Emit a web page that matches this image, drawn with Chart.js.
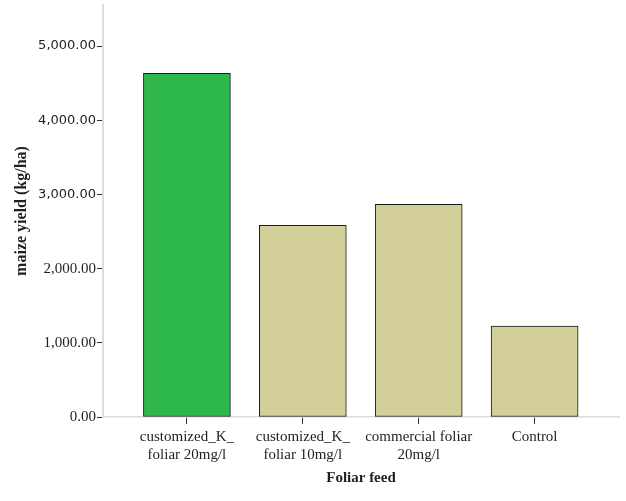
<!DOCTYPE html>
<html>
<head>
<meta charset="utf-8">
<script src="https://cdn.jsdelivr.net/npm/chart.js@4"></script>
<style>
  html, body { margin: 0; padding: 0; background: #fff; }
  #wrap { width: 626px; height: 501px; }
</style>
</head>
<body>
<div id="wrap"><canvas id="barChart"></canvas></div>
<script>
// === DATA ===
const categories = ["customized_K_\nfoliar 20mg/l", "customized_K_\nfoliar 10mg/l", "commercial foliar\n20mg/l", "Control"];
const yieldValues = [4632, 2582, 2865, 1227];
const barColors = ["#2eb84b", "#d3cf98", "#d3cf98", "#d3cf98"];
const yTicks = [0, 1000, 2000, 3000, 4000, 5000];

const serif = "'Liberation Serif', 'Times New Roman', serif";
const sans = "'DejaVu Sans', Verdana, sans-serif";

const barChart = new Chart(document.getElementById("barChart"), {
    type: "bar",
    data: {
        datasets: [{
            data: yieldValues.map((v, i) => ({ x: i, y: v })),
            backgroundColor: barColors,
            borderColor: "#1a1a1a",
            borderWidth: 1,
            borderSkipped: false,
            barThickness: 87
        }]
    },
    options: {
        responsive: true,
        maintainAspectRatio: false,
        animation: false,
        plugins: { legend: { display: false }, tooltip: { enabled: false } },
        layout: { padding: { top: 5, right: 7, bottom: 0, left: 0 } },
        scales: {
            x: {
                type: "linear",
                offset: false,
                min: -0.724,
                max: 3.728,
                afterBuildTicks: (s) => { s.ticks = categories.map((c, i) => ({ value: i })); },
                afterFit: (s) => { s.height = 84; },
                grid: { offset: false, drawOnChartArea: false, tickLength: 7, tickColor: "#333", tickWidth: 1 },
                border: { color: "#dcdcdc", width: 1.5 },
                ticks: {
                    padding: 4,
                    color: "#1f1f1f",
                    font: { family: serif, size: 15, lineHeight: 1.2 },
                    maxRotation: 0,
                    autoSkip: false,
                    callback: (v) => categories[v] !== undefined ? categories[v].split("\n") : ""
                },
                title: {
                    display: true,
                    text: "Foliar feed",
                    color: "#1f1f1f",
                    font: { family: serif, size: 15, weight: "bold", lineHeight: 1.2 },
                    padding: { top: 0, bottom: 14 }
                }
            },
            y: {
                min: 0,
                max: 5553,
                afterBuildTicks: (s) => { s.ticks = yTicks.map(v => ({ value: v })); },
                afterFit: (s) => { s.width = 103; s.paddingTop = 0; s.paddingBottom = 0; },
                grid: { drawOnChartArea: false, tickLength: 6, tickColor: "#333", tickWidth: 1 },
                border: { color: "#dcdcdc", width: 2 },
                ticks: {
                    padding: 1,
                    color: "#1f1f1f",
                    font: (ctx) => ctx.tick && ctx.tick.value >= 3000
                        ? { family: sans, size: 13 }
                        : { family: serif, size: 15 },
                    callback: (v) => v.toLocaleString("en-US", { minimumFractionDigits: 2, maximumFractionDigits: 2 })
                },
                title: {
                    display: true,
                    text: "maize yield (kg/ha)",
                    color: "#1f1f1f",
                    font: { family: serif, size: 16, weight: "bold", lineHeight: 1.2 },
                    padding: { top: 12, bottom: 0 }
                }
            }
        }
    }
});
</script>
</body>
</html>
